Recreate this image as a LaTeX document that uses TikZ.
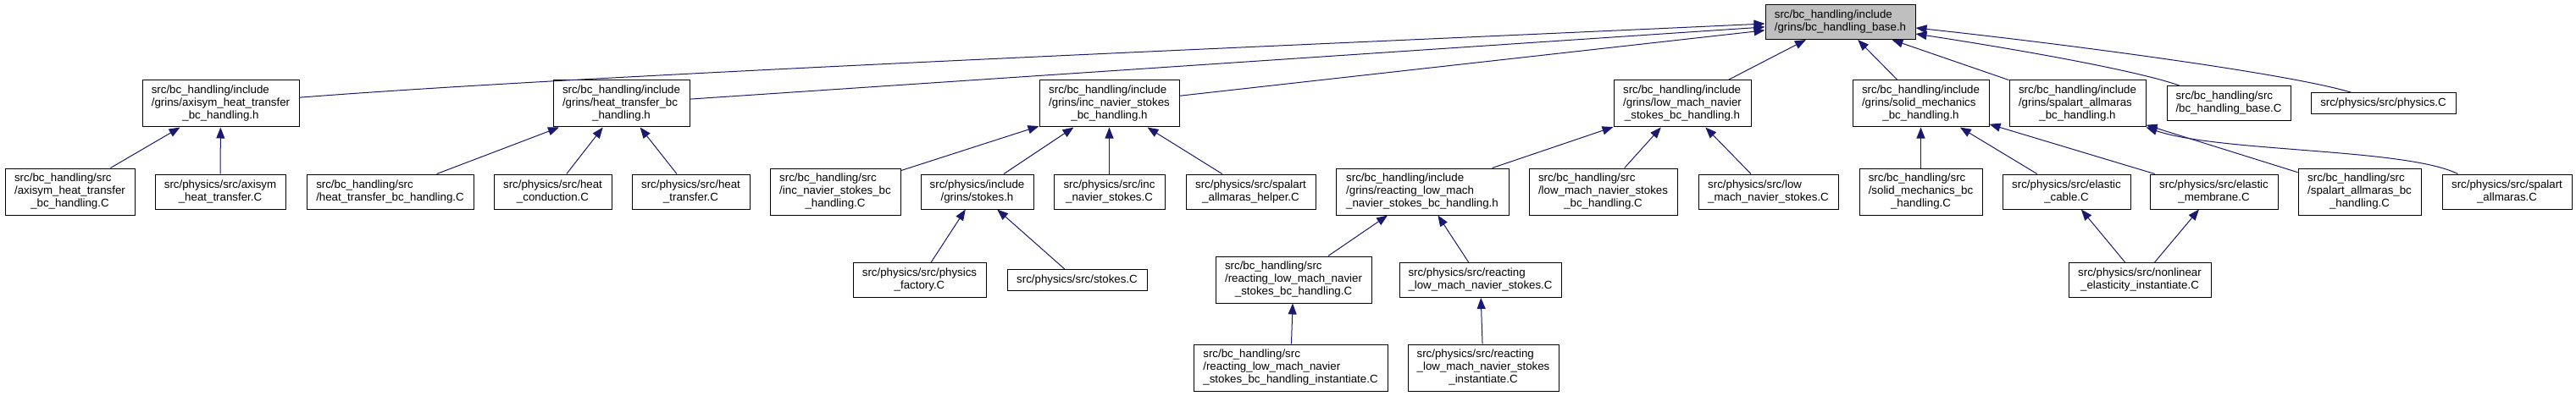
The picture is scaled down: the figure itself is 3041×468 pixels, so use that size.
\documentclass[tikz,border=0pt]{standalone}
\usepackage{fontspec}
\usepackage{xcolor}
\usepackage{tikz}
\usetikzlibrary{arrows.meta}
\newfontfamily\doxsans{Liberation Sans}
\definecolor{edgeblue}{RGB}{25,25,112}
\definecolor{basegray}{RGB}{191,191,191}
% all lines left aligned, last one centred
\newcommand{\flines}[2]{\begin{tabular}{@{}l@{}}#1\\\multicolumn{1}{@{}c@{}}{#2}\end{tabular}}

\begin{document}
\begin{tikzpicture}[
  x=1pt, y=-1pt,
  font=\doxsans\fontsize{13.3}{15}\selectfont,
  filebox/.style={draw, line width=1pt, fill=white, inner sep=0pt},
  h1/.style={minimum height=25pt},
  h2/.style={minimum height=41pt},
  h3/.style={minimum height=55pt},
  arrow/.style={-{Triangle[length=13pt,width=10pt]}, draw=edgeblue,
      fill=none, line width=1pt}
]
\useasboundingbox (0,0) rectangle (3041,468);
% top
\node[filebox, h2, fill=basegray, minimum width=177pt] (basehdr) at (2172.5,26)
  {\flines{src/bc\_handling/include}{/grins/bc\_handling\_base.h}};
% second row
\node[filebox, h3, minimum width=185pt] (axisymhdr) at (260.5,122.5)
  {\flines{src/bc\_handling/include\\/grins/axisym\_heat\_transfer}{\_bc\_handling.h}};
\node[filebox, h3, minimum width=161pt] (heathdr) at (733.5,122.5)
  {\flines{src/bc\_handling/include\\/grins/heat\_transfer\_bc}{\_handling.h}};
\node[filebox, h3, minimum width=165pt] (inchdr) at (1309.5,122.5)
  {\flines{src/bc\_handling/include\\/grins/inc\_navier\_stokes}{\_bc\_handling.h}};
\node[filebox, h3, minimum width=162pt] (lowmachhdr) at (1986,122.5)
  {\flines{src/bc\_handling/include\\/grins/low\_mach\_navier}{\_stokes\_bc\_handling.h}};
\node[filebox, h3, minimum width=161pt] (solidhdr) at (2267.5,122.5)
  {\flines{src/bc\_handling/include\\/grins/solid\_mechanics}{\_bc\_handling.h}};
\node[filebox, h3, minimum width=161pt] (spalarthdr) at (2452.5,122.5)
  {\flines{src/bc\_handling/include\\/grins/spalart\_allmaras}{\_bc\_handling.h}};
\node[filebox, h2, minimum width=146pt] (bcbasesrc) at (2631,122.5)
  {\flines{src/bc\_handling/src}{/bc\_handling\_base.C}};
\node[filebox, h1, minimum width=171pt] (physicssrc) at (2813.5,122.5)
  {src/physics/src/physics.C};
% third row
\node[filebox, h3, minimum width=153pt] (axisymbcsrc) at (82.5,226.5)
  {\flines{src/bc\_handling/src\\/axisym\_heat\_transfer}{\_bc\_handling.C}};
\node[filebox, h2, minimum width=154pt] (axisymsrc) at (260,226.5)
  {\flines{src/physics/src/axisym}{\_heat\_transfer.C}};
\node[filebox, h2, minimum width=197pt] (heatbcsrc) at (460.5,226.5)
  {\flines{src/bc\_handling/src}{/heat\_transfer\_bc\_handling.C}};
\node[filebox, h2, minimum width=139pt] (conductsrc) at (652.5,226.5)
  {\flines{src/physics/src/heat}{\_conduction.C}};
\node[filebox, h2, minimum width=139pt] (heattrsrc) at (815.5,226.5)
  {\flines{src/physics/src/heat}{\_transfer.C}};
\node[filebox, h3, minimum width=154pt] (incbcsrc) at (986,226.5)
  {\flines{src/bc\_handling/src\\/inc\_navier\_stokes\_bc}{\_handling.C}};
\node[filebox, h2, minimum width=133pt] (stokeshdr) at (1153.5,226.5)
  {\flines{src/physics/include}{/grins/stokes.h}};
\node[filebox, h2, minimum width=131pt] (incsrc) at (1309.5,226.5)
  {\flines{src/physics/src/inc}{\_navier\_stokes.C}};
\node[filebox, h2, minimum width=153pt] (sahelpersrc) at (1476.5,226.5)
  {\flines{src/physics/src/spalart}{\_allmaras\_helper.C}};
\node[filebox, h3, minimum width=204pt] (reactinghdr) at (1679,226.5)
  {\flines{src/bc\_handling/include\\/grins/reacting\_low\_mach}{\_navier\_stokes\_bc\_handling.h}};
\node[filebox, h3, minimum width=175pt] (lowmachbcsrc) at (1892.5,226.5)
  {\flines{src/bc\_handling/src\\/low\_mach\_navier\_stokes}{\_bc\_handling.C}};
\node[filebox, h2, minimum width=165pt] (lowmachsrc) at (2087.5,226.5)
  {\flines{src/physics/src/low}{\_mach\_navier\_stokes.C}};
\node[filebox, h3, minimum width=145pt] (solidbcsrc) at (2267.5,226.5)
  {\flines{src/bc\_handling/src\\/solid\_mechanics\_bc}{\_handling.C}};
\node[filebox, h2, minimum width=151pt] (cablesrc) at (2439.5,226.5)
  {\flines{src/physics/src/elastic}{\_cable.C}};
\node[filebox, h2, minimum width=151pt] (membranesrc) at (2613.5,226.5)
  {\flines{src/physics/src/elastic}{\_membrane.C}};
\node[filebox, h3, minimum width=145pt] (sabcsrc) at (2785.5,226.5)
  {\flines{src/bc\_handling/src\\/spalart\_allmaras\_bc}{\_handling.C}};
\node[filebox, h2, minimum width=153pt] (sasrc) at (2959.5,226.5)
  {\flines{src/physics/src/spalart}{\_allmaras.C}};
% fourth row
\node[filebox, h2, minimum width=157pt] (factorysrc) at (1085.5,331)
  {\flines{src/physics/src/physics}{\_factory.C}};
\node[filebox, h1, minimum width=165pt] (stokessrc) at (1271.5,331)
  {src/physics/src/stokes.C};
\node[filebox, h3, minimum width=184pt] (reactbcsrc) at (1527,330.5)
  {\flines{src/bc\_handling/src\\/reacting\_low\_mach\_navier}{\_stokes\_bc\_handling.C}};
\node[filebox, h2, minimum width=191pt] (reactsrc) at (1747.5,331)
  {\flines{src/physics/src/reacting}{\_low\_mach\_navier\_stokes.C}};
\node[filebox, h2, minimum width=168pt] (nonlinsrc) at (2526,331)
  {\flines{src/physics/src/nonlinear}{\_elasticity\_instantiate.C}};
% bottom row
\node[filebox, h3, minimum width=229pt] (reactbcinst) at (1523.5,434.5)
  {\flines{src/bc\_handling/src\\/reacting\_low\_mach\_navier}{\_stokes\_bc\_handling\_instantiate.C}};
\node[filebox, h3, minimum width=178pt] (reactinst) at (1751,434.5)
  {\flines{src/physics/src/reacting\\\_low\_mach\_navier\_stokes}{\_instantiate.C}};
% edges to the base header
\draw[arrow] (axisymhdr) .. controls (700,88) and (1500,55) .. ([yshift=-2pt]basehdr.west);
\draw[arrow] (heathdr) -- (basehdr);
\draw[arrow] (inchdr) -- (basehdr);
\draw[arrow] (lowmachhdr) -- (basehdr);
\draw[arrow] (solidhdr) -- (basehdr);
\draw[arrow] (spalarthdr) -- (basehdr);
\draw[arrow] ([xshift=-57pt]bcbasesrc.north) .. controls (2520,82) and (2360,55) .. ([yshift=-14pt]basehdr.east);
\draw[arrow] ([xshift=-37pt]physicssrc.north) .. controls (2700,86) and (2420,50) .. ([yshift=-7pt]basehdr.east);
% second level
\draw[arrow] (axisymbcsrc) -- (axisymhdr);
\draw[arrow] (axisymsrc) -- (axisymhdr);
\draw[arrow] (heatbcsrc) -- (heathdr);
\draw[arrow] (conductsrc) -- (heathdr);
\draw[arrow] (heattrsrc) -- (heathdr);
\draw[arrow] (incbcsrc) -- (inchdr);
\draw[arrow] (stokeshdr) -- (inchdr);
\draw[arrow] (incsrc) -- (inchdr);
\draw[arrow] (sahelpersrc) -- (inchdr);
\draw[arrow] (reactinghdr) -- (lowmachhdr);
\draw[arrow] (lowmachbcsrc) -- (lowmachhdr);
\draw[arrow] (lowmachsrc) -- (lowmachhdr);
\draw[arrow] (solidbcsrc) -- (solidhdr);
\draw[arrow] (cablesrc) -- (solidhdr);
\draw[arrow] (membranesrc) -- (solidhdr);
\draw[arrow] (sabcsrc) -- (spalarthdr);
\draw[arrow] ([xshift=-58pt]sasrc.north) .. controls (2840,175) and (2620,180) .. (spalarthdr.south east);
% lower levels
\draw[arrow] (factorysrc) -- (stokeshdr);
\draw[arrow] (stokessrc) -- (stokeshdr);
\draw[arrow] (reactbcsrc) -- (reactinghdr);
\draw[arrow] (reactsrc) -- (reactinghdr);
\draw[arrow] (reactbcinst) -- (reactbcsrc);
\draw[arrow] (reactinst) -- (reactsrc);
\draw[arrow] (nonlinsrc) -- (cablesrc);
\draw[arrow] (nonlinsrc) -- (membranesrc);
\end{tikzpicture}
\end{document}
